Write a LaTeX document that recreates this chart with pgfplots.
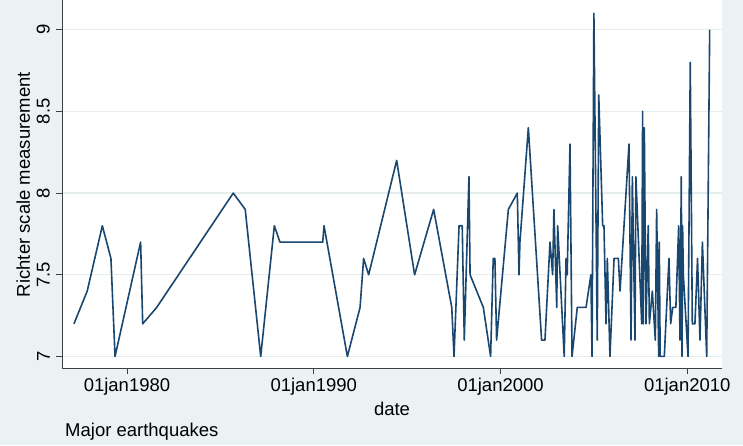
\documentclass[border=0pt]{standalone}
\usepackage{fontspec}
\setmainfont{Liberation Sans}
\usepackage{pgfplots}
\usepackage{pgfplotstable}
\pgfplotsset{compat=1.18}
\definecolor{bg}{RGB}{234,242,243}
\definecolor{stnavy}{RGB}{26,71,111}
\definecolor{gridc}{RGB}{230,237,239}

\pgfplotstableread{
date rich
1977.16 7.2
1977.87 7.4
1978.68 7.8
1979.14 7.6
1979.36 7.0
1980.73 7.7
1980.84 7.2
1981.59 7.3
1985.69 8.0
1986.33 7.9
1987.16 7.0
1987.89 7.8
1988.19 7.7
1990.48 7.7
1990.55 7.8
1991.80 7.0
1992.48 7.3
1992.67 7.6
1992.94 7.5
1994.44 8.2
1995.40 7.5
1996.42 7.9
1997.39 7.3
1997.51 7.0
1997.78 7.8
1997.95 7.8
1998.06 7.1
1998.31 8.1
1998.37 7.5
1999.08 7.3
1999.47 7.0
1999.61 7.6
1999.70 7.6
1999.79 7.1
2000.42 7.9
2000.90 8.0
2000.99 7.5
2001.04 7.7
2001.49 8.4
2002.20 7.1
2002.38 7.1
2002.65 7.7
2002.79 7.5
2002.86 7.9
2003.01 7.3
2003.06 7.8
2003.41 7.0
2003.51 7.6
2003.57 7.5
2003.72 8.3
2003.83 7.0
2004.11 7.3
2004.58 7.3
2004.84 7.5
2004.90 7.0
2005.00 9.1
2005.18 7.1
2005.26 8.6
2005.47 7.8
2005.54 7.8
2005.65 7.2
2005.72 7.6
2005.86 7.0
2006.08 7.6
2006.31 7.6
2006.40 7.4
2006.88 8.3
2006.99 7.1
2007.06 8.1
2007.20 7.1
2007.25 8.1
2007.56 7.2
2007.61 8.5
2007.64 7.2
2007.70 8.4
2007.79 7.2
2007.91 7.8
2007.97 7.2
2008.13 7.4
2008.18 7.3
2008.29 7.1
2008.36 7.9
2008.47 7.0
2008.50 7.7
2008.55 7.0
2008.77 7.0
2009.02 7.6
2009.11 7.2
2009.22 7.3
2009.39 7.3
2009.54 7.8
2009.61 7.1
2009.68 8.1
2009.72 7.0
2009.75 7.8
2009.79 7.5
2010.04 7.0
2010.16 8.8
2010.27 7.2
2010.41 7.2
2010.55 7.6
2010.68 7.1
2010.81 7.7
2011.04 7.0
2011.20 9.0
}\quakes

\begin{document}
\begin{tikzpicture}[font=\fontsize{18.5}{22}\selectfont]
\fill[bg] (-62pt,-77pt) rectangle (681pt,368pt);
\begin{axis}[
  at={(0pt,0pt)}, anchor=south west,
  scale only axis, width=660pt, height=368pt,
  xmin=1976.52, xmax=2011.86, ymin=6.9265, ymax=9.179,
  axis background/.style={fill=white},
  axis x line*=bottom, axis y line*=left,
  axis line style={black!75, line width=0.9pt},
  xtick={1980,1990,2000,2010},
  xticklabels={01jan1980,01jan1990,01jan2000,01jan2010},
  ytick={7,7.5,8,8.5,9},
  tick align=outside, major tick length=6pt,
  tick style={black!75, line width=0.9pt},
  minor tick num=0,
  ymajorgrids, grid style={gridc, line width=1.3pt},
  /pgf/number format/assume math mode=true,
  xticklabel style={anchor=north, inner sep=0pt},
  yticklabel style={rotate=90, anchor=south, inner sep=0pt},
  xticklabel shift=3pt, yticklabel shift=6pt,
  xlabel={date}, ylabel={Richter scale measurement},
  xlabel style={at={(axis description cs:0.5,0)}, anchor=north, inner sep=0pt, yshift=-33.7pt},
  ylabel style={at={(axis description cs:-0.048,0.5)}, anchor=south, inner sep=0pt},
  title={Major earthquakes},
  title style={at={(axis description cs:0,0)}, anchor=north west, inner sep=0pt, yshift=-60pt, xshift=3pt},
]
\addplot[stnavy, line width=1.6pt, line join=round] table[x=date, y=rich] {\quakes};
\end{axis}
\end{tikzpicture}
\end{document}
